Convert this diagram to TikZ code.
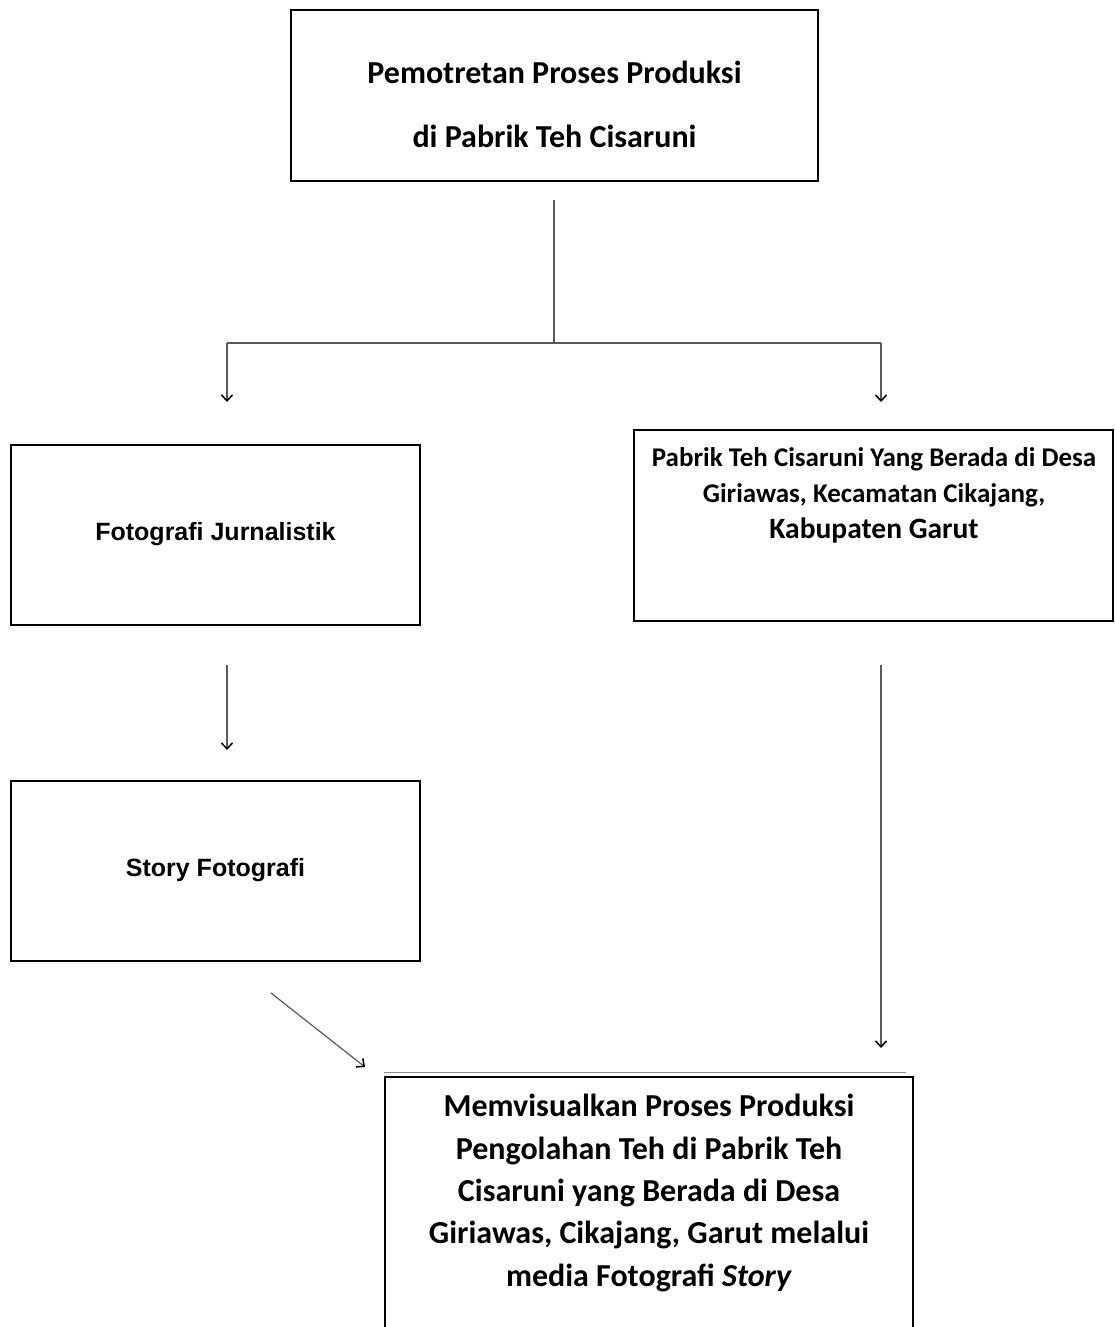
\documentclass[tikz,border=0pt]{standalone}
\usepackage{fontspec}
\setmainfont{Carlito}
\newfontfamily\arialfont{Liberation Sans}
\usetikzlibrary{positioning,calc,arrows.meta}

\begin{document}
\begin{tikzpicture}[x=1pt,y=-1pt,
    kotak/.style={draw=black,line width=1.3pt,rectangle,inner sep=0pt},
    teks/.style={align=center,inner sep=0pt,font=\bfseries\fontsize{32}{64}\selectfont},
    garis/.style={draw=black!65,line width=1.2pt},
    panah/.style={garis,-{Straight Barb[length=6pt,width=11pt,color=black,line width=1.5pt]}}]
        % Frame
        \useasboundingbox (0,0) rectangle (1114,1327);
        \clip (0,0) rectangle (1114,1327);

        % Boxes
        \node[kotak,minimum width=527pt,minimum height=171pt] (judul) at (554.5,95.5) {};
        \node[teks] (judulteks) at ($(judul.center)+(0,9)$) {Pemotretan Proses Produksi\\di Pabrik Teh Cisaruni};

        \node[kotak,minimum width=409pt,minimum height=180pt] (jurnal) at (215.5,535) {};
        \node[font=\arialfont\bfseries\fontsize{25}{30}\selectfont] (jurnalteks) at ($(jurnal.center)+(0,-1)$) {Fotografi Jurnalistik};

        \node[kotak,minimum width=479pt,minimum height=191pt] (lokasi) at (873.5,525.5) {};
        \node[teks,font=\bfseries\fontsize{27}{36}\selectfont] (lokasiteks) at (874,495)
            {Pabrik Teh Cisaruni Yang Berada di Desa\\Giriawas, Kecamatan Cikajang,\\{\fontsize{29.5}{36}\selectfont Kabupaten Garut}};

        \node[kotak,minimum width=409pt,minimum height=180pt] (story) at (215.5,871) {};
        \node[font=\arialfont\bfseries\fontsize{25}{30}\selectfont] (storyteks) at ($(story.center)+(0,-1)$) {Story Fotografi};

        \node[kotak,minimum width=528pt,minimum height=283pt] (hasil) at (649,1218.5) {};
        \node[teks,font=\bfseries\fontsize{32}{42.3}\selectfont] (hasilteks) at (649,1193)
            {Memvisualkan Proses Produksi\\Pengolahan Teh di Pabrik Teh\\Cisaruni yang Berada di Desa\\Giriawas, Cikajang, Garut melalui\\media Fotografi \textit{Story}};
        \draw[garis,draw=black!45] ($(hasil.north west)+(0,-4)$) -- ($(hasil.north east)+(-8,-4)$);

        % Connectors
        \coordinate (a1) at (554,200);
        \coordinate (cabang) at (554,343);
        \coordinate (kiri) at (227,343);
        \coordinate (kanan) at (881,343);
        \coordinate (kiriujung) at (227,402);
        \coordinate (kananujung) at (881,402);
        \coordinate (b1) at (227,665);
        \coordinate (b2) at (227,750);
        \coordinate (c1) at (271,993);
        \coordinate (c2) at (365,1067);
        \coordinate (d1) at (881,665);
        \coordinate (d2) at (881,1048);

        \draw[garis] (a1) -- (cabang);
        \draw[garis] (kiri) -- (kanan);
        \draw[panah] (kiri) -- (kiriujung);
        \draw[panah] (kanan) -- (kananujung);
        \draw[panah] (b1) -- (b2);
        \draw[panah] (c1) -- (c2);
        \draw[panah] (d1) -- (d2);
    \end{tikzpicture}
\end{document}
